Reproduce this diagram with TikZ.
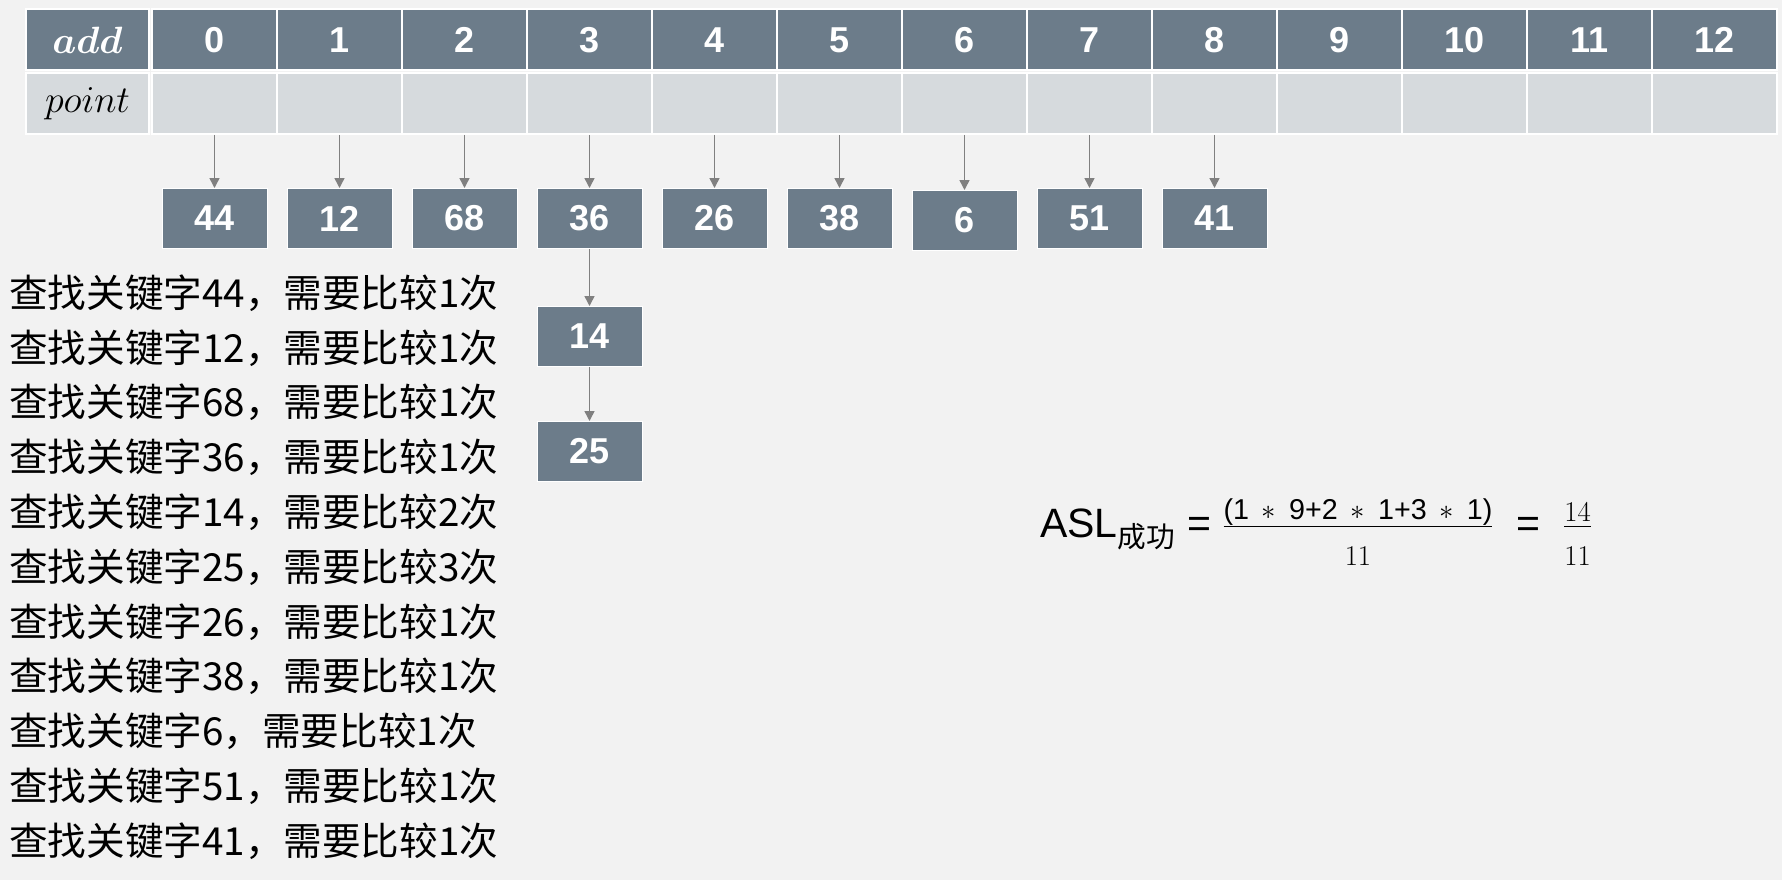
\RequirePackage{fix-cm}
\documentclass[tikz,border=0pt]{standalone}
\usepackage{fontspec}
\usepackage{amsmath}
\setmainfont{Liberation Sans}
\newfontfamily\cjk{Noto Sans CJK SC}
\usepackage{tikz}
\usetikzlibrary{arrows.meta, positioning}
\definecolor{cellslate}{RGB}{108, 124, 138}
\definecolor{cellgray}{RGB}{214, 218, 221}
\definecolor{pagegray}{RGB}{242, 242, 242}
\definecolor{linkgray}{RGB}{128, 128, 128}
\newcommand{\opgap}{\hspace{0.45em}}
\newcommand{\lowden}{\rule{0pt}{0.9em}}

\begin{document}
\begin{tikzpicture}[x=1pt, y=-1pt,
    headcell/.style={fill=cellslate, draw=white, line width=2pt, minimum width=125pt,
                     minimum height=61pt, inner sep=0pt, text=white,
                     font=\fontsize{36}{40}\selectfont\bfseries},
    ptrcell/.style={fill=cellgray, draw=white, line width=2pt, minimum width=125pt,
                    minimum height=61pt, inner sep=0pt},
    keybox/.style={fill=cellslate, draw=white, line width=1pt, minimum width=105pt,
                   minimum height=60pt, inner sep=0pt, text=white,
                   font=\fontsize{36}{40}\selectfont\bfseries},
    link/.style={draw=linkgray, line width=1.5pt, -{Triangle[width=10pt, length=10pt]}},
    probe/.style={anchor=west, inner sep=0pt, font=\cjk\fontsize{38.6}{44}\selectfont}
]
    % page
    \fill[pagegray] (0,0) rectangle (1782,880);
    \useasboundingbox (0,0) rectangle (1782,880);

    % Hash table
    \node[headcell, minimum width=123pt, font=\fontsize{38}{42}\selectfont] (addlbl) at (87.5,40) {$\boldsymbol{add}$};
    \node[ptrcell, minimum width=123pt, font=\fontsize{38}{42}\selectfont] (ptrlbl) at (87.5,103.5) {$point$};
    \foreach \i in {0,...,12} {
        \node[headcell] (h\i) at ({214.5+125*\i},40) {\i};
        \node[ptrcell] (p\i) at ({214.5+125*\i},103.5) {};
    }

    % Keys
    \node[keybox, below=53pt of p0] (k44) {44};
    \node[keybox, below=53pt of p1] (k12) {12};
    \node[keybox, below=53pt of p2] (k68) {68};
    \node[keybox, below=53pt of p3] (k36) {36};
    \node[keybox, below=53pt of p4] (k26) {26};
    \node[keybox, below=53pt of p5] (k38) {38};
    \node[keybox, below=55pt of p6] (k6) {6};
    \node[keybox, below=53pt of p7] (k51) {51};
    \node[keybox, below=53pt of p8] (k41) {41};
    \node[keybox, below=57pt of k36] (k14) {14};
    \node[keybox, below=54pt of k14] (k25) {25};

    % Pointers
    \draw[link] (p0) -- (k44);
    \draw[link] (p1) -- (k12);
    \draw[link] (p2) -- (k68);
    \draw[link] (p3) -- (k36);
    \draw[link] (p4) -- (k26);
    \draw[link] (p5) -- (k38);
    \draw[link] (p6) -- (k6);
    \draw[link] (p7) -- (k51);
    \draw[link] (p8) -- (k41);
    \draw[link] (k36) -- (k14);
    \draw[link] (k14) -- (k25);

    % Comparisons
    \foreach \kv/\nc [count=\i] in {44/1, 12/1, 68/1, 36/1, 14/2, 25/3, 26/1, 38/1, 6/1, 51/1, 41/1}
        \node[probe] (q\i) at (9,{293+54.8*(\i-1)}) {查找关键字{\kv}，需要比较{\nc}次};

    % ASL
    \node[anchor=west, inner sep=0pt, font=\fontsize{41}{48}\selectfont] (asl) at (1040,532)
        {ASL$_{\text{\cjk 成功}}$ = $\frac{\text{(1\opgap$\ast$\opgap9+2\opgap$\ast$\opgap1+3\opgap$\ast$\opgap1)}}{\lowden 11}$ \ = \ $\frac{14}{\lowden 11}$};
\end{tikzpicture}
\end{document}
